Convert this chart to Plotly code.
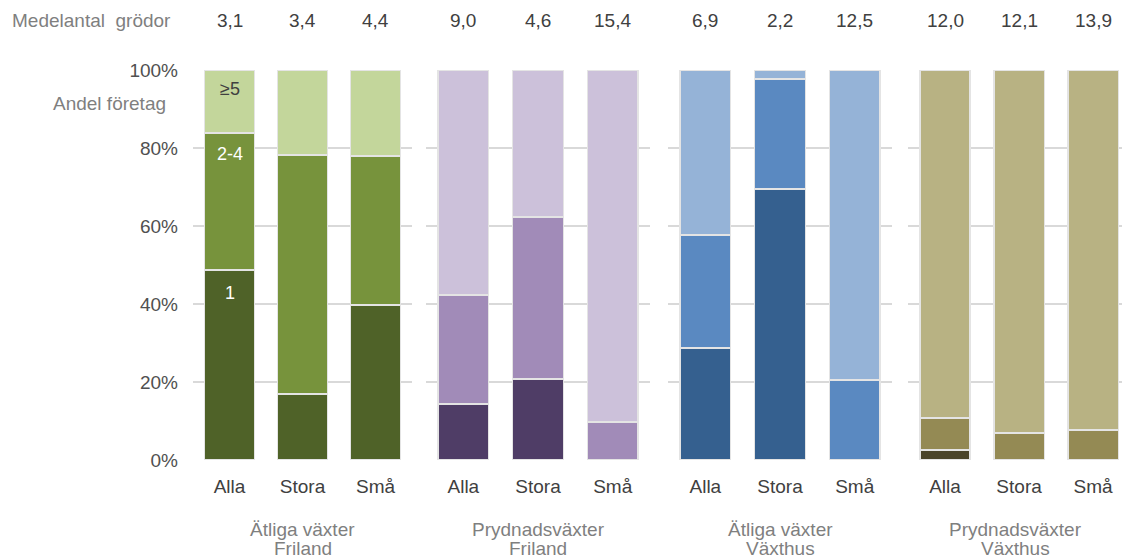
import plotly.graph_objects as go

W, H = 1122, 559

categories = ["Alla", "Stora", "Små"]
group_labels = [("Ätliga växter", "Friland"), ("Prydnadsväxter", "Friland"),
                ("Ätliga växter", "Växthus"), ("Prydnadsväxter", "Växthus")]

# Medelantal grödor per bar
medel_grodor = [[3.1, 3.4, 4.4], [9.0, 4.6, 15.4], [6.9, 2.2, 12.5], [12.0, 12.1, 13.9]]

# Andel företag (%) by number of crops
share_1 = [[48.7, 16.9, 39.7], [14.4, 20.8, None], [28.7, 69.5, None], [2.6, None, None]]
share_2_4 = [[35.1, 61.3, 38.2], [27.9, 41.5, 9.7], [29.0, 28.2, 20.5], [8.2, 6.9, 7.7]]
share_5 = [[16.2, 21.8, 22.1], [57.7, 37.7, 90.3], [42.3, 2.3, 79.5], [89.2, 93.1, 92.3]]

series_names = ["1", "2-4", "≥5"]
colors = [
    ["#4f6228", "#77933c", "#c3d69b"],
    ["#4f3d66", "#a18bb8", "#ccc1da"],
    ["#35608f", "#5a89c1", "#95b3d7"],
    ["#4a442a", "#948a54", "#b8b283"],
]

y_ticks = [0, 20, 40, 60, 80, 100]
y_ticktext = [f"{v}%" for v in y_ticks]

# layout geometry (pixels)
M_T, M_B = 70, 99
domains_px = [(193, 412), (426, 650), (668, 892), (908, 1122)]
x_ranges = [[-0.5, 2.5], [-0.5, 2.5], [-0.5, 2.5], [-0.5, 2.39]]

FONT = "Liberation Sans, Arial, sans-serif"
FS = 19
GRAY = "#505050"
LGRAY = "#7f7f7f"
DARK = "#404040"
GRID = "#d9d9d9"

plot_h = H - M_T - M_B


def py(px_from_top):
    """pixel row (from top of figure) -> paper y"""
    return (H - M_B - px_from_top) / plot_h


fig = go.Figure()
layout = dict(
    width=W, height=H,
    margin=dict(l=0, r=0, t=M_T, b=M_B),
    plot_bgcolor="white", paper_bgcolor="white",
    barmode="stack", bargap=0.32,
    showlegend=False,
    font=dict(family=FONT, size=FS, color=GRAY),
)

annotations = []
for g in range(4):
    sfx = "" if g == 0 else str(g + 1)
    xa, ya = "x" + sfx, "y" + sfx
    for s, vals in enumerate([share_1[g], share_2_4[g], share_5[g]]):
        fig.add_trace(go.Bar(
            x=categories, y=vals, name=series_names[s],
            xaxis=xa, yaxis=ya,
            marker=dict(color=colors[g][s], line=dict(color="#e4e4e4", width=1.5)),
            hoverinfo="skip",
        ))
    d0, d1 = domains_px[g]
    layout["xaxis" + sfx] = dict(
        domain=[d0 / W, d1 / W], anchor=ya, range=x_ranges[g],
        type="category", showgrid=False, zeroline=False, showline=False,
        ticks="", tickfont=dict(size=FS, color=DARK, family=FONT),
        ticklabelstandoff=13,
    )
    layout["yaxis" + sfx] = dict(
        domain=[0, 1], anchor=xa, range=[0, 100],
        tickmode="array", tickvals=y_ticks, ticktext=y_ticktext,
        showticklabels=(g == 0),
        showgrid=True, gridcolor=GRID, gridwidth=1.5,
        zeroline=False, showline=False, ticks="",
        tickfont=dict(size=FS, color=GRAY, family=FONT),
        ticklabelstandoff=14,
    )
    # top values (Medelantal grödor)
    for i, c in enumerate(categories):
        annotations.append(dict(
            x=c, xref=xa, y=py(20), yref="paper", yanchor="middle",
            text=f"{medel_grodor[g][i]:.1f}".replace(".", ","),
            showarrow=False, font=dict(size=FS, color=DARK, family=FONT),
        ))
    # group labels (two lines)
    for line, ypx in zip(group_labels[g], (529, 548)):
        annotations.append(dict(
            x=0.5, xref=xa + " domain", y=py(ypx), yref="paper", yanchor="middle",
            text=line, showarrow=False,
            font=dict(size=FS, color=LGRAY, family=FONT),
        ))

# labels inside first bar
cum = 0
label_colors = ["white", "white", DARK]
label_shift = [-11, -9, -7]
for s, vals in enumerate([share_1[0], share_2_4[0], share_5[0]]):
    cum += vals[0]
    annotations.append(dict(
        x=categories[0], xref="x", y=min(cum, 99.9), yref="y", yanchor="top",
        yshift=label_shift[s],
        text=series_names[s], showarrow=False,
        font=dict(size=18, color=label_colors[s], family=FONT),
    ))

annotations.append(dict(
    x=10 / W, xref="paper", xanchor="left", y=py(20), yref="paper",
    yanchor="middle", text="Medelantal  grödor", showarrow=False,
    font=dict(size=FS, color=LGRAY, family=FONT),
))
annotations.append(dict(
    x=168 / W, xref="paper", xanchor="right", y=py(103), yref="paper",
    yanchor="middle", text="Andel företag", showarrow=False,
    font=dict(size=FS, color=LGRAY, family=FONT),
))

layout["annotations"] = annotations
fig.update_layout(**layout)
fig.write_html("out.html", config={"displayModeBar": False},
               post_script="document.body.style.margin='0px';")
